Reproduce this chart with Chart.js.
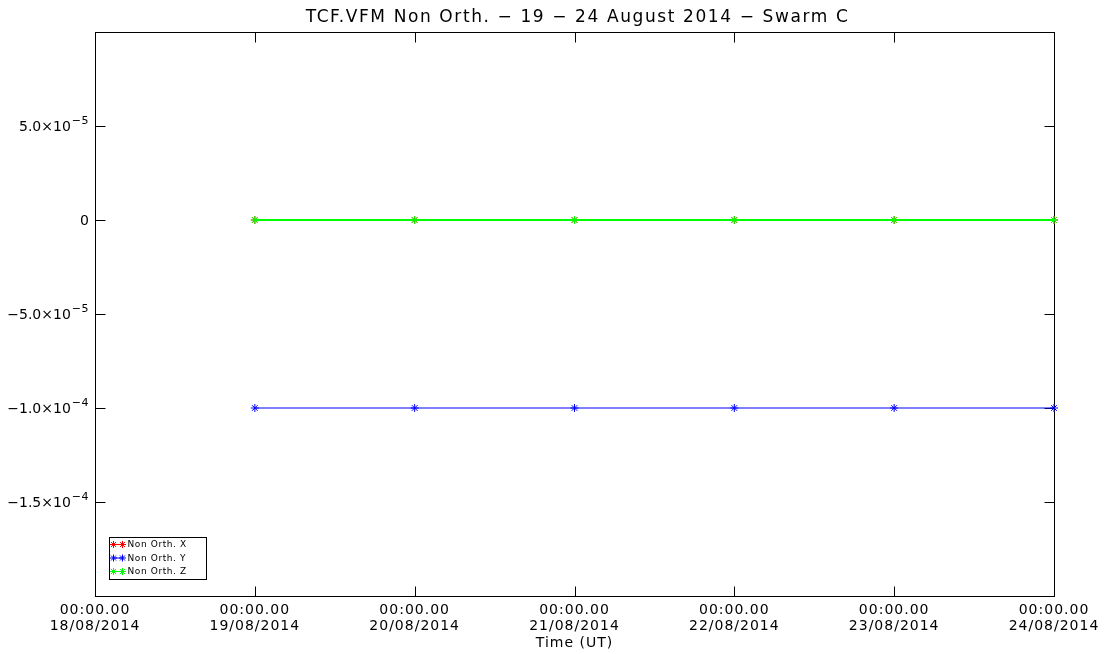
<!DOCTYPE html>
<html>
<head>
<meta charset="utf-8">
<script src="https://cdn.jsdelivr.net/npm/chart.js@4/dist/chart.umd.min.js"></script>
<style>
  html, body { margin: 0; padding: 0; background: #fff; }
  #wrap { width: 1116px; height: 654px; }
</style>
</head>
<body>
<div id="wrap"><canvas id="c" width="1116" height="654"></canvas></div>
<script>
// Days counted from 18/08/2014 00:00 UT
const dayTicks = [0, 1, 2, 3, 4, 5, 6];
const dayLabels = ['18/08/2014', '19/08/2014', '20/08/2014', '21/08/2014', '22/08/2014', '23/08/2014', '24/08/2014'];
const timeLabel = '00:00.00';

const sampleDays = [1, 2, 3, 4, 5, 6];
const nonOrthX = [0, 0, 0, 0, 0, 0];
const nonOrthY = [-1.0e-4, -1.0e-4, -1.0e-4, -1.0e-4, -1.0e-4, -1.0e-4];
const nonOrthZ = [0, 0, 0, 0, 0, 0];

// y tick values with mantissa / exponent parts of their labels
const yTickValues = [-1.5e-4, -1.0e-4, -5.0e-5, 0, 5.0e-5];
const yTickMantissa = ['\u22121.5\u00d710', '\u22121.0\u00d710', '\u22125.0\u00d710', '0', '5.0\u00d710'];
const yTickExponent = ['\u22124', '\u22124', '\u22125', '', '\u22125'];

const titleText = 'TCF.VFM Non Orth. \u2212 19 \u2212 24 August 2014 \u2212 Swarm C';
const seriesNames = ['Non Orth. X', 'Non Orth. Y', 'Non Orth. Z'];
const seriesColors = ['#ff0000', '#0000ff', '#00ff00'];

const FONT = 'DejaVu Sans';

function pts(vals) {
  return sampleDays.map((d, i) => ({ x: d, y: vals[i] }));
}

function makeSet(i, vals, order, width) {
  return {
    label: seriesNames[i],
    data: pts(vals),
    borderColor: seriesColors[i],
    backgroundColor: seriesColors[i],
    borderWidth: width,
    pointStyle: 'star',
    pointRadius: 4,
    pointBorderWidth: 1,
    pointBorderColor: seriesColors[i],
    tension: 0,
    clip: false,
    order: order
  };
}

// wide lettering for axis text
const spacingPlugin = {
  id: 'spacing',
  beforeDraw(chart) { chart.ctx.letterSpacing = '1px'; },
  beforeDatasetsDraw(chart) { chart.ctx.letterSpacing = '0px'; }
};

// title, y labels with exponents, frame with inward ticks, boxed legend
const framePlugin = {
  id: 'frame',
  beforeDatasetsDraw(chart) {
    const ctx = chart.ctx;
    const a = chart.chartArea;
    const xs = chart.scales.x, ys = chart.scales.y;
    const L = Math.round(a.left) + 0.5, R = Math.round(a.right) + 0.5;
    const T = Math.round(a.top) + 0.5, B = Math.round(a.bottom) + 0.5;
    ctx.save();
    ctx.strokeStyle = '#000';
    ctx.lineWidth = 1;
    ctx.strokeRect(L, T, R - L, B - T);
    ctx.beginPath();
    dayTicks.forEach(v => {
      const px = Math.round(xs.getPixelForValue(v)) + 0.5;
      ctx.moveTo(px, B); ctx.lineTo(px, B - 10);
      ctx.moveTo(px, T); ctx.lineTo(px, T + 10);
    });
    yTickValues.forEach(v => {
      const py = Math.round(ys.getPixelForValue(v)) + 0.5;
      ctx.moveTo(L, py); ctx.lineTo(L + 10, py);
      ctx.moveTo(R, py); ctx.lineTo(R - 10, py);
    });
    ctx.stroke();

    // title
    ctx.fillStyle = '#000';
    ctx.letterSpacing = '1.6px';
    ctx.font = '17px ' + FONT;
    ctx.textAlign = 'center';
    ctx.textBaseline = 'middle';
    ctx.fillText(titleText, (a.left + a.right) / 2 + 3, 18);

    // y labels
    ctx.textAlign = 'right';
    ctx.textBaseline = 'middle';
    const rightEdge = a.left - 6;
    yTickValues.forEach((v, i) => {
      const py = ys.getPixelForValue(v) + 1;
      let x = rightEdge;
      if (yTickExponent[i]) {
        ctx.font = '11px ' + FONT;
        ctx.letterSpacing = '0.5px';
        ctx.fillText(yTickExponent[i], x, py - 6);
        x -= ctx.measureText(yTickExponent[i]).width + 1;
      }
      ctx.font = '14px ' + FONT;
      ctx.letterSpacing = '0px';
      ctx.fillText(yTickMantissa[i], x, py);
    });
    ctx.restore();
  },
  afterDraw(chart) {
    const ctx = chart.ctx;
    const a = chart.chartArea;
    const bx = Math.round(a.left) + 14.5;
    const by = Math.round(a.bottom) - 58.5;
    ctx.save();
    ctx.letterSpacing = '0.6px';
    ctx.fillStyle = '#fff';
    ctx.fillRect(bx, by, 97, 42);
    ctx.strokeStyle = '#000';
    ctx.lineWidth = 1;
    ctx.strokeRect(bx, by, 97, 42);
    ctx.font = '9px ' + FONT;
    ctx.textBaseline = 'middle';
    seriesNames.forEach((name, i) => {
      const yy = by + 7 + i * 13.5;
      const x1 = bx + 4, x2 = bx + 13;
      ctx.strokeStyle = seriesColors[i];
      ctx.beginPath();
      ctx.moveTo(x1, yy); ctx.lineTo(x2, yy);
      ctx.stroke();
      [x1, x2].forEach(px => {
        ctx.beginPath();
        for (let k = 0; k < 4; k++) {
          const ang = k * Math.PI / 4;
          const dx = Math.cos(ang) * 3.5, dy = Math.sin(ang) * 3.5;
          ctx.moveTo(px - dx, yy - dy); ctx.lineTo(px + dx, yy + dy);
        }
        ctx.stroke();
      });
      ctx.fillStyle = '#000';
      ctx.fillText(name, x2 + 5, yy + 0.5);
    });
    ctx.restore();
  }
};

new Chart(document.getElementById('c'), {
  type: 'line',
  data: {
    datasets: [makeSet(0, nonOrthX, 2, 1), makeSet(1, nonOrthY, 1, 1), makeSet(2, nonOrthZ, 0, 2)]
  },
  options: {
    responsive: false,
    animation: false,
    layout: { padding: { left: 0, right: 62, top: 32, bottom: 0 } },
    plugins: {
      legend: { display: false },
      tooltip: { enabled: false },
      title: { display: false }
    },
    scales: {
      x: {
        type: 'linear',
        min: 0,
        max: 6,
        afterBuildTicks(scale) { scale.ticks = dayTicks.map(v => ({ value: v })); },
        afterFit(scale) { scale.height = 58; },
        grid: { display: false, drawTicks: false },
        border: { display: false },
        ticks: {
          color: '#000',
          padding: 6,
          autoSkip: false,
          maxRotation: 0,
          font: { family: FONT, size: 14, lineHeight: 1.15 },
          callback: (v) => [timeLabel, dayLabels[dayTicks.indexOf(v)]]
        },
        title: {
          display: true,
          text: 'Time (UT)',
          color: '#000',
          font: { family: FONT, size: 14 },
          padding: { top: 0, bottom: 2 }
        }
      },
      y: {
        type: 'linear',
        min: -2.0e-4,
        max: 1.0e-4,
        afterBuildTicks(scale) { scale.ticks = yTickValues.map(v => ({ value: v })); },
        afterFit(scale) { scale.width = 95; },
        grid: { display: false, drawTicks: false },
        border: { display: false },
        ticks: { display: false }
      }
    }
  },
  plugins: [spacingPlugin, framePlugin]
});
</script>
</body>
</html>
